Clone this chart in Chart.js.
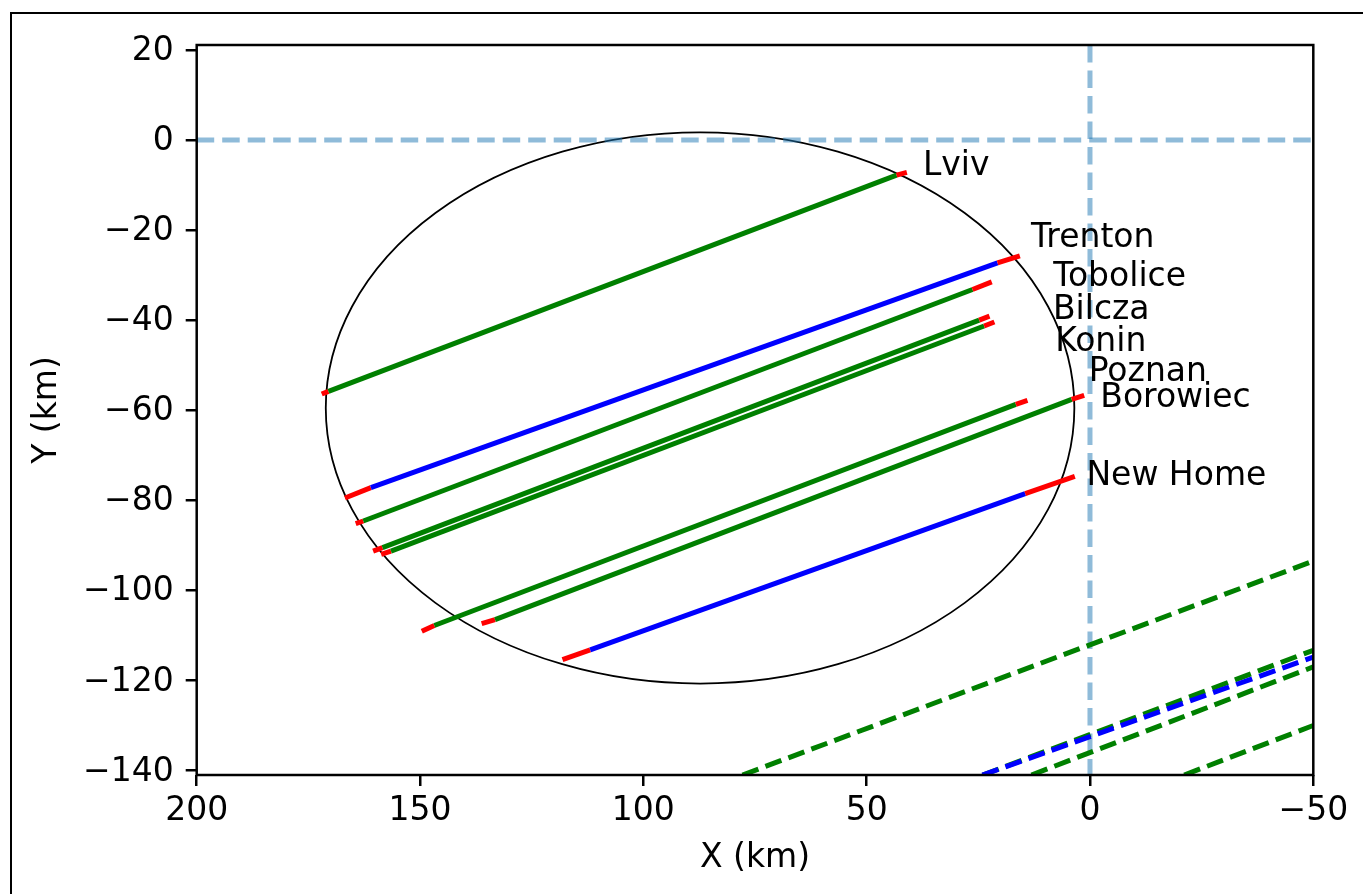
<!DOCTYPE html>
<html><head><meta charset="utf-8">
<script src="https://cdn.jsdelivr.net/npm/chart.js@4/dist/chart.umd.min.js"></script>
<style>
html,body{margin:0;padding:0;background:#fff;}
#wrap{position:relative;width:1363px;height:894px;overflow:hidden;background:#fff;}
#frame{position:absolute;left:10px;top:12px;width:1400px;height:1000px;border:2px solid #000;box-sizing:border-box;}
canvas{position:absolute;left:0;top:0;}
</style></head><body>
<div id="wrap"><div id="frame"></div><canvas id="c" width="1363" height="894"></canvas></div>
<script>
// ---- data ----
const stations = ['Lviv','Trenton','Tobolice','Bilcza','Konin','Poznan','Borowiec','New Home'];
const trackColors = ['green','blue','green','green','green','green','green','blue'];
// per track: [red start, main start, main end, red end]
const trackX = [
  [172.0, 170.5, 43.3, 41.0],
  [166.8, 161.0, 20.7, 15.7],
  [164.4, 162.7, 26.3, 22.0],
  [160.5, 158.4, 24.8, 22.5],
  [158.7, 156.5, 23.7, 21.4],
  [149.6, 146.8, 16.6, 14.0],
  [136.2, 133.2, 4.1, 1.3],
  [118.1, 111.9, 14.5, 3.4]
];
const trackY = [
  [-56.4, -55.8, -7.8, -7.2],
  [-79.5, -77.2, -27.3, -25.7],
  [-85.2, -84.6, -33.2, -31.5],
  [-91.3, -90.5, -40.0, -39.1],
  [-92.0, -91.3, -41.3, -40.4],
  [-109.1, -107.8, -58.7, -57.8],
  [-107.4, -106.5, -57.6, -56.7],
  [-115.4, -113.2, -78.5, -74.7]
];
const labelX = [37.4, 13.2, 8.2, 8.3, 7.8, 0.3, -2.3, 0.8];
const labelY = [-7.8, -23.7, -32.4, -39.8, -46.8, -53.6, -59.3, -76.7];

const dashColors = ['blue','green','green','green','green'];
const dashX = [[24.1, -50], [77.8, -50], [24.0, -50], [13.1, -50], [-21.1, -50]];
const dashY = [[-141, -114.8], [-141, -93.5], [-141, -113.3], [-141, -117.0], [-141, -130.0]];

const hLineY = [0];
const vLineX = [0];
const ellipseCenter = [87.3, -59.5];
const ellipseRadii = [83.8, 61.2];

const xRange = [-50, 200];
const yRange = [-141, 21.1];
const xTicks = [200, 150, 100, 50, 0, -50];
const yTicks = [20, 0, -20, -40, -60, -80, -100, -120, -140];

// ---- chart ----
const FONT = "'DejaVu Sans', sans-serif";
const FS = 33;
const fmt = v => v < 0 ? '\u2212' + Math.abs(v) : String(v);

const datasets = [];
stations.forEach((name, i) => {
  datasets.push({
    label: name,
    data: trackX[i].map((x, j) => ({x: x, y: trackY[i][j]})),
    borderColor: trackColors[i],
    borderWidth: 5,
    borderCapStyle: 'butt',
    pointRadius: 0,
    showLine: true,
    segment: { borderColor: ctx => ctx.p0DataIndex === 1 ? trackColors[i] : '#ff0000' }
  });
});
dashColors.forEach((c, i) => {
  datasets.push({
    data: dashX[i].map((x, j) => ({x: x, y: dashY[i][j]})),
    borderColor: c, borderWidth: 5, borderDash: [17, 7.5], borderCapStyle: 'butt',
    pointRadius: 0, showLine: true
  });
});
hLineY.forEach(v => datasets.push({
  data: [{x: xRange[1], y: v}, {x: xRange[0], y: v}],
  borderColor: 'rgba(31,119,180,0.5)', borderWidth: 5, borderDash: [17.5, 8], borderCapStyle: 'butt',
  pointRadius: 0, showLine: true
}));
vLineX.forEach(v => datasets.push({
  data: [{x: v, y: yRange[1]}, {x: v, y: yRange[0]}],
  borderColor: 'rgba(31,119,180,0.5)', borderWidth: 5, borderDash: [17.5, 8], borderCapStyle: 'butt',
  pointRadius: 0, showLine: true
}));

const overlay = {
  id: 'overlay',
  beforeDatasetsDraw(chart) {
    const {ctx, chartArea: a, scales: {x, y}} = chart;
    const cx = x.getPixelForValue(ellipseCenter[0]);
    const cy = y.getPixelForValue(ellipseCenter[1]);
    const rx = Math.abs(x.getPixelForValue(ellipseCenter[0] + ellipseRadii[0]) - cx);
    const ry = Math.abs(y.getPixelForValue(ellipseCenter[1] + ellipseRadii[1]) - cy);
    ctx.save();
    ctx.beginPath(); ctx.rect(a.left, a.top, a.right - a.left, a.bottom - a.top); ctx.clip();
    ctx.beginPath(); ctx.ellipse(cx, cy, rx, ry, 0, 0, Math.PI * 2);
    ctx.lineWidth = 1.8; ctx.strokeStyle = '#000'; ctx.stroke();
    ctx.restore();
  },
  afterDraw(chart) {
    const {ctx, chartArea: a, scales: {x, y}} = chart;
    ctx.save();
    ctx.font = FS + 'px ' + FONT;
    ctx.fillStyle = '#000';
    ctx.textAlign = 'left'; ctx.textBaseline = 'alphabetic';
    stations.forEach((s, i) => ctx.fillText(s, x.getPixelForValue(labelX[i]), y.getPixelForValue(labelY[i])));
    ctx.lineWidth = 2.5; ctx.strokeStyle = '#000';
    ctx.strokeRect(a.left, a.top, a.right - a.left, a.bottom - a.top);
    ctx.restore();
  }
};

const gridOpts = {display: true, drawOnChartArea: false, drawTicks: true, tickLength: 11, tickWidth: 2.5, tickColor: '#000', color: '#000', lineWidth: 2.5};

new Chart(document.getElementById('c'), {
  type: 'scatter',
  data: {datasets},
  options: {
    responsive: false, animation: false,
    layout: {padding: {left: 0, top: 45, right: 49.7, bottom: 0}},
    plugins: {legend: {display: false}, tooltip: {enabled: false}},
    scales: {
      x: {
        type: 'linear', reverse: true, min: xRange[0], max: xRange[1],
        afterBuildTicks: s => { s.ticks = xTicks.map(v => ({value: v})); },
        afterFit: s => { s.height = 119; },
        ticks: {autoSkip: false, maxRotation: 0, padding: 6, color: '#000', font: {family: FONT, size: FS}, callback: v => fmt(v)},
        grid: gridOpts, border: {display: false},
        title: {display: true, text: 'X (km)', color: '#000', font: {family: FONT, size: FS}, padding: {top: 0, bottom: 16}}
      },
      y: {
        type: 'linear', min: yRange[0], max: yRange[1],
        afterBuildTicks: s => { s.ticks = yTicks.map(v => ({value: v})); },
        afterFit: s => { s.width = 196.7; },
        ticks: {autoSkip: false, padding: 12, labelOffset: 1.5, color: '#000', font: {family: FONT, size: FS}, callback: v => fmt(v)},
        grid: gridOpts, border: {display: false},
        title: {display: true, text: 'Y (km)', color: '#000', font: {family: FONT, size: FS}, padding: {top: 28, bottom: 0}}
      }
    }
  },
  plugins: [overlay]
});
</script>
</body></html>
